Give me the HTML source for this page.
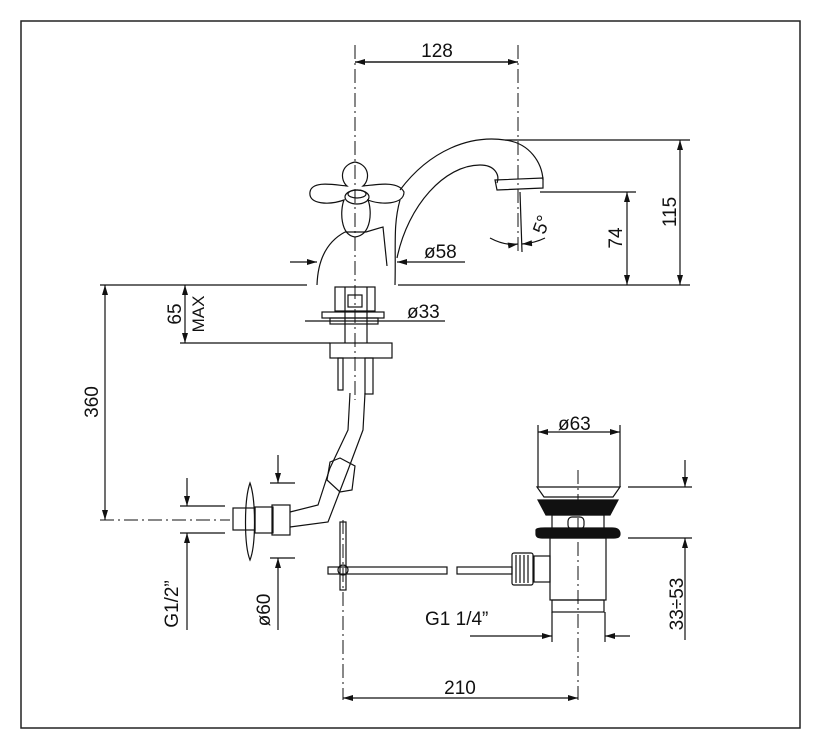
<!DOCTYPE html>
<html><head><meta charset="utf-8"><style>
html,body{margin:0;padding:0;background:#fff}
svg{display:block}
text{font-family:"Liberation Sans",sans-serif;font-size:19px;fill:#111}
</style></head><body>
<svg width="820" height="749" viewBox="0 0 820 749" xmlns="http://www.w3.org/2000/svg">
<defs>
<marker id="a" viewBox="0 0 10 6" refX="10" refY="3" markerWidth="12" markerHeight="6" markerUnits="userSpaceOnUse" orient="auto"><path d="M0 0L10 3L0 6z" fill="#111"/></marker>
</defs>
<rect x="21" y="21" width="779" height="707" fill="none" stroke="#222" stroke-width="1.5"/>
<g stroke="#111" stroke-width="1.2" fill="none">
<!-- center lines -->
<g stroke-dasharray="14,4,2,4" stroke-width="1">
<line x1="355" y1="45" x2="355" y2="400"/>
<line x1="518" y1="45" x2="518" y2="255"/>
<line x1="578" y1="470" x2="578" y2="700"/>
<line x1="343" y1="520" x2="343" y2="700"/>
<line x1="100" y1="520" x2="230" y2="520"/>
</g>
<!-- 128 -->
<line x1="355" y1="62" x2="518" y2="62" marker-start="url(#a)" marker-end="url(#a)" style="marker-start:none"/>
<line x1="518" y1="62" x2="355" y2="62" marker-end="url(#a)"/>
<!-- deck line -->
<line x1="100" y1="285" x2="307" y2="285"/>
<line x1="398" y1="285" x2="690" y2="285"/>
<!-- 115 -->
<line x1="505" y1="140" x2="690" y2="140"/>
<line x1="680" y1="212" x2="680" y2="140" marker-end="url(#a)"/>
<line x1="680" y1="212" x2="680" y2="285" marker-end="url(#a)"/>
<!-- 74 -->
<line x1="540" y1="192" x2="636" y2="192"/>
<line x1="627" y1="238" x2="627" y2="192" marker-end="url(#a)"/>
<line x1="627" y1="238" x2="627" y2="285" marker-end="url(#a)"/>
<!-- 5 deg -->
<path d="M490 238 Q505 246 518 244" marker-end="url(#a)"/>
<path d="M545 238 Q535 243 522 244" marker-end="url(#a)"/>
<line x1="520" y1="192" x2="522" y2="252"/>
<!-- spout -->
<path d="M400 190 C430 150 470 135 505 140 C530 143 542 163 543 180"/>
<path d="M397 258 C408 205 445 165 480 165 C495 165 500 175 497 183"/>
<path d="M495 180 L543 178 L543 188 L497 190 Z"/>
<!-- body -->
<path d="M317 285 C318 255 330 240 345 232 M395 285 C396 245 393 225 400 200"/>
<path d="M345 232 L366 232 L383 227 L387 266"/>
<!-- handle -->
<path d="M347 186 C340 180 340 165 355 162 C370 165 370 180 363 186 C375 185 398 180 404 192 C404 205 380 205 368 200 C372 210 372 235 355 237 C340 235 340 210 344 200 C330 205 308 205 310 192 C312 180 335 185 347 186 Z"/>
<ellipse cx="357" cy="197" rx="12" ry="7"/>
<ellipse cx="357" cy="194" rx="9" ry="4"/>
<!-- ø58 -->
<line x1="290" y1="262" x2="317" y2="262" marker-end="url(#a)"/>
<line x1="465" y1="262" x2="397" y2="262" marker-end="url(#a)"/>
<!-- shank -->
<rect x="335" y="287" width="40" height="24"/>
<line x1="345" y1="287" x2="345" y2="343"/><line x1="367" y1="287" x2="367" y2="343"/>
<rect x="348" y="295" width="14" height="12"/>
<rect x="322" y="312" width="62" height="6"/>
<rect x="330" y="318" width="48" height="6"/>
<line x1="305" y1="321" x2="445" y2="321"/>
<rect x="330" y="343" width="62" height="15"/>
<rect x="338" y="358" width="5" height="32"/>
<rect x="365" y="358" width="8" height="36"/>
<!-- 65 MAX -->
<line x1="180" y1="343" x2="330" y2="343"/>
<line x1="185" y1="314" x2="185" y2="285" marker-end="url(#a)"/>
<line x1="185" y1="314" x2="185" y2="343" marker-end="url(#a)"/>
<!-- 360 -->
<line x1="105" y1="400" x2="105" y2="285" marker-end="url(#a)"/>
<line x1="105" y1="400" x2="105" y2="520" marker-end="url(#a)"/>
<!-- pipe -->
<path d="M350 393 L348 430 L330 468 L318 505 L290 512 M365 393 L363 430 L348 470 L328 522 L290 527"/>
<path d="M330 462 L340 458 L355 466 L352 490 L340 492 L327 480 Z"/>
<rect x="272" y="505" width="18" height="30"/>
<rect x="255" y="507" width="18" height="26"/>
<rect x="233" y="508" width="22" height="22"/>
<path d="M250 483 C244 500 244 545 250 560 C256 545 256 500 250 483 Z"/>
<!-- G1/2 -->
<line x1="180" y1="506" x2="225" y2="506"/><line x1="180" y1="533" x2="225" y2="533"/>
<line x1="187" y1="478" x2="187" y2="506" marker-end="url(#a)"/>
<line x1="187" y1="630" x2="187" y2="533" marker-end="url(#a)"/>
<!-- ø60 -->
<line x1="270" y1="483" x2="295" y2="483"/><line x1="270" y1="558" x2="295" y2="558"/>
<line x1="278" y1="455" x2="278" y2="483" marker-end="url(#a)"/>
<line x1="278" y1="630" x2="278" y2="558" marker-end="url(#a)"/>
<!-- lever -->
<rect x="340" y="522" width="6" height="68"/>
<rect x="328" y="567" width="119" height="7"/>
<rect x="457" y="567" width="55" height="7"/>
<circle cx="343" cy="570" r="5"/>
<!-- drain -->
<line x1="538" y1="425" x2="538" y2="487"/><line x1="620" y1="425" x2="620" y2="487"/>
<line x1="578" y1="432" x2="538" y2="432" marker-end="url(#a)"/>
<line x1="578" y1="432" x2="620" y2="432" marker-end="url(#a)"/>
<path d="M537 487 L620 487 L613 497 L544 497 Z"/>
<path d="M538 500 L618 500 L610 515 L546 515 Z" fill="#111"/>
<rect x="552" y="515" width="52" height="14"/>
<rect x="568" y="517" width="16" height="12" rx="4"/>
<path d="M536 530 Q536 528 545 528 L612 528 Q620 528 620 534 Q620 538 614 538 L542 538 Q536 538 536 534 Z" fill="#111"/>
<rect x="550" y="538" width="56" height="62"/>
<rect x="552" y="600" width="52" height="12"/>
<rect x="534" y="556" width="16" height="26"/>
<rect x="512" y="553" width="21" height="32" rx="2"/>
<line x1="516" y1="555" x2="516" y2="583"/><line x1="520" y1="555" x2="520" y2="583"/><line x1="524" y1="555" x2="524" y2="583"/><line x1="528" y1="555" x2="528" y2="583"/>
<!-- 33÷53 -->
<line x1="628" y1="487" x2="692" y2="487"/><line x1="628" y1="538" x2="692" y2="538"/>
<line x1="685" y1="460" x2="685" y2="487" marker-end="url(#a)"/>
<line x1="685" y1="640" x2="685" y2="538" marker-end="url(#a)"/>
<!-- G1 1/4 -->
<line x1="552" y1="612" x2="552" y2="642"/><line x1="605" y1="612" x2="605" y2="642"/>
<line x1="470" y1="636" x2="552" y2="636" marker-end="url(#a)"/>
<line x1="630" y1="636" x2="605" y2="636" marker-end="url(#a)"/>
<!-- 210 -->
<line x1="460" y1="698" x2="343" y2="698" marker-end="url(#a)"/>
<line x1="460" y1="698" x2="578" y2="698" marker-end="url(#a)"/>
</g>
<text x="437" y="57" text-anchor="middle">128</text>
<text x="424" y="258">ø58</text>
<text x="407" y="318">ø33</text>
<text x="558" y="430">ø63</text>
<text x="425" y="625">G1  1/4”</text>
<text x="460" y="694" text-anchor="middle">210</text>
<text x="538" y="230" transform="rotate(-70 545 228)">5°</text>
<text transform="translate(676 212) rotate(-90)" text-anchor="middle">115</text>
<text transform="translate(622 238) rotate(-90)" text-anchor="middle">74</text>
<text transform="translate(98 402) rotate(-90)" text-anchor="middle">360</text>
<text transform="translate(181 314) rotate(-90)" text-anchor="middle">65</text>
<text transform="translate(204 314) rotate(-90)" text-anchor="middle" style="font-size:17px">MAX</text>
<text transform="translate(178 604) rotate(-90)" text-anchor="middle">G1/2”</text>
<text transform="translate(270 610) rotate(-90)" text-anchor="middle">ø60</text>
<text transform="translate(683 604) rotate(-90)" text-anchor="middle">33÷53</text>
</svg>
</body></html>
